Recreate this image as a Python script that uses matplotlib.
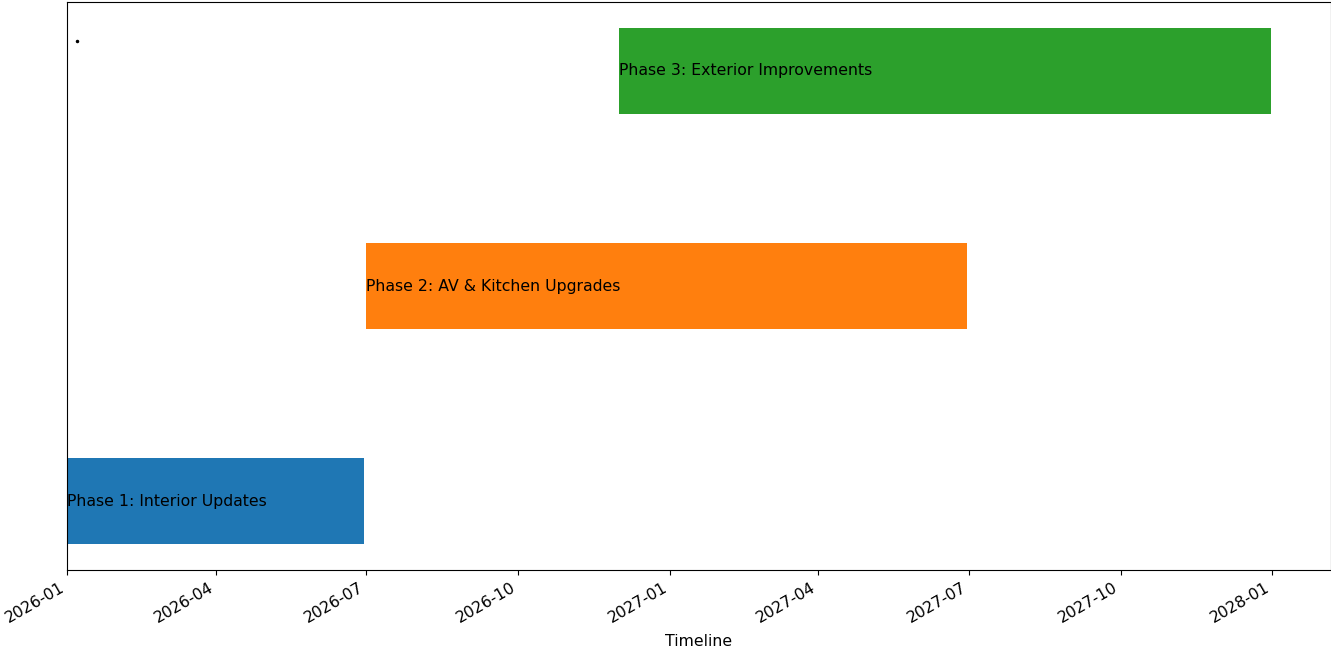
import matplotlib
matplotlib.use('Agg')
import matplotlib.pyplot as plt
import matplotlib.dates as mdates
import pandas as pd

# phases of the project
tasks = ['Phase 1: Interior Updates', 'Phase 2: AV & Kitchen Upgrades', 'Phase 3: Exterior Improvements']
starts = pd.to_datetime(['2026-01-01', '2026-07-01', '2026-12-01'])
ends = pd.to_datetime(['2026-06-30', '2027-06-30', '2027-12-31'])
colors = ['#1f77b4', '#ff7f0e', '#2ca02c']

fig, ax = plt.subplots(figsize=(13.31, 6.49), dpi=100)
fig.subplots_adjust(left=0.0503, right=1.0, top=0.9969, bottom=0.1217)

for i in range(len(tasks)):
    ax.barh(i, ends[i] - starts[i], left=starts[i], height=0.4, color=colors[i])
    ax.text(starts[i], i, tasks[i], va='center', ha='left', fontsize=11.3)

# stray marker near top left
ax.plot(pd.to_datetime('2026-01-07'), 2.14, marker='.', color='black', markersize=3)

ax.set_xlim(left=starts[0])
ax.xaxis.set_major_locator(mdates.MonthLocator(bymonth=[1, 4, 7, 10]))
ax.xaxis.set_major_formatter(mdates.DateFormatter('%Y-%m'))
ax.set_yticks([])
ax.set_xlabel('Timeline', fontsize=11.3, labelpad=6)
for lbl in ax.get_xticklabels():
    lbl.set_rotation(30)
    lbl.set_ha('right')
    lbl.set_fontsize(11.3)

fig.savefig('out.png', dpi=100)
